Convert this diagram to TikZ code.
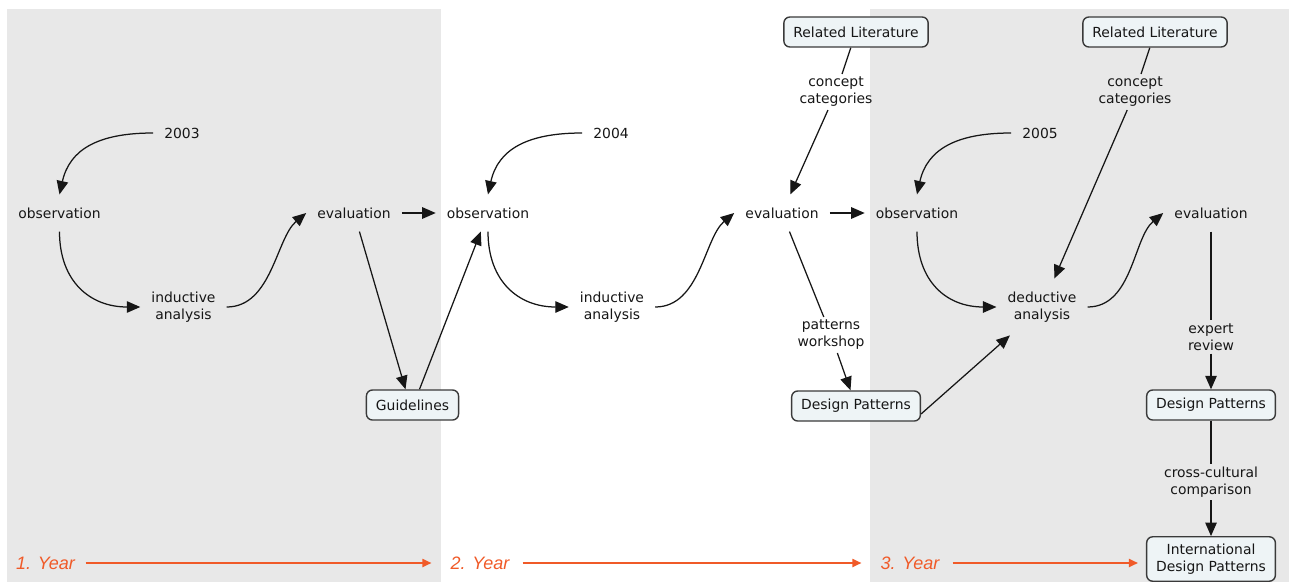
\documentclass[tikz,border=0pt]{standalone}
\usepackage{fontspec}
\setmainfont{DejaVu Sans}
\newfontfamily\yearfont{Liberation Sans}
\usetikzlibrary{arrows.meta}
\definecolor{panelgray}{HTML}{E8E8E8}
\definecolor{boxfill}{HTML}{EEF4F6}
\definecolor{boxline}{HTML}{3A3A3A}
\definecolor{yearorange}{HTML}{F05A28}
\definecolor{inkc}{HTML}{161616}
\begin{document}
\begin{tikzpicture}[x=1pt,y=-1pt,
  txt/.style={font=\fontsize{13.9}{17}\selectfont, text=inkc, align=center},
  lbl/.style={txt, inner xsep=11pt, inner ysep=13pt},
  mid/.style={txt, inner sep=3pt},
  box/.style={txt, draw=boxline, line width=1.4pt, fill=boxfill, rounded corners=6pt,
              inner xsep=9.5pt, inner ysep=7pt, minimum height=30pt},
  ln/.style={draw=inkc, line width=1.25pt},
  arr/.style={ln, -{Triangle[length=13.5pt,width=11.5pt]}},
  yr/.style={font=\yearfont\itshape\fontsize{18}{20}\selectfont, text=yearorange, inner sep=0pt},
  yarr/.style={draw=yearorange, line width=1.8pt, -{Triangle[length=9pt,width=8pt]}}
]
\useasboundingbox (0,0) rectangle (1289,583);
\fill[panelgray] (7,9) rectangle (441,582);
\fill[panelgray] (870,9) rectangle (1289,582);

% ---- year 1
\node[lbl] (y03) at (182,133) {2003};
\node[lbl] (obs1) at (59.5,213) {observation};
\node[lbl] (ind1) at (183.5,307) {inductive\\analysis};
\node[lbl] (eval1) at (354,213) {evaluation};
\node[box] (guide) at (412.5,405) {Guidelines};

% ---- year 2
\node[lbl] (y04) at (611,133) {2004};
\node[lbl] (obs2) at (488,213) {observation};
\node[lbl] (ind2) at (612,307) {inductive\\analysis};
\node[lbl] (eval2) at (782,213) {evaluation};
\node[box] (rl1) at (856,32) {Related Literature};
\node[mid] (cc1) at (836,92) {concept\\categories};
\node[mid] (pw) at (831,335) {patterns\\workshop};
\node[box] (dp1) at (856,406) {Design Patterns};

% ---- year 3
\node[lbl] (y05) at (1040,133) {2005};
\node[lbl] (obs3) at (917,213) {observation};
\node[lbl] (ded) at (1042,307) {deductive\\analysis};
\node[lbl] (eval3) at (1211,213) {evaluation};
\node[box] (rl2) at (1155,32) {Related Literature};
\node[mid] (cc2) at (1135,92) {concept\\categories};
\node[mid] (er) at (1211,337) {expert\\review};
\node[box] (dp2) at (1211,405) {Design Patterns};
\node[mid] (ccc) at (1211,482) {cross-cultural\\comparison};
\node[box] (idp) at (1211,559) {International\\Design Patterns};

% ---- year labels
\node[yr] (yr1) at (45.5,563) {1. Year};
\node[yr] (yr2) at (480,563) {2. Year};
\node[yr] (yr3) at (910,563) {3. Year};

% ---- connectors year 1
\draw[arr] (y03.west) .. controls +(-55,0) and +(10,-45) .. (obs1.north);
\draw[arr] (obs1.south) .. controls +(0,50) and +(-50,0) .. (ind1.west);
\draw[arr] (ind1.east) .. controls +(45,0) and +(-30,25) .. (eval1.west);
\draw[arr] (eval1.east) -- (obs2.west);
\draw[arr] (eval1) -- ([xshift=-7pt]guide.north);
\draw[arr] ([xshift=7pt]guide.north) -- (obs2);

% ---- connectors year 2
\draw[arr] (y04.west) .. controls +(-55,0) and +(10,-45) .. (obs2.north);
\draw[arr] (obs2.south) .. controls +(0,50) and +(-50,0) .. (ind2.west);
\draw[arr] (ind2.east) .. controls +(45,0) and +(-30,25) .. (eval2.west);
\draw[ln] (rl1) -- (cc1);
\draw[arr] (cc1) -- (eval2);
\draw[arr] (eval2.east) -- (obs3.west);
\draw[ln] (eval2) -- (pw);
\draw[arr] (pw) -- (dp1);
\draw[arr] ([yshift=-8pt]dp1.east) -- (ded);

% ---- connectors year 3
\draw[arr] (y05.west) .. controls +(-55,0) and +(10,-45) .. (obs3.north);
\draw[arr] (obs3.south) .. controls +(0,50) and +(-50,0) .. (ded.west);
\draw[ln] (rl2) -- (cc2);
\draw[arr] (cc2) -- (ded);
\draw[arr] (ded.east) .. controls +(45,0) and +(-30,25) .. (eval3.west);
\draw[ln] (eval3) -- (er);
\draw[arr] (er) -- (dp2);
\draw[ln] (dp2) -- (ccc);
\draw[arr] (ccc) -- (idp);

% ---- timeline
\draw[yarr, shorten <=10.5pt, shorten >=19pt] (yr1) -- (yr2);
\draw[yarr, shorten <=13pt, shorten >=19pt] (yr2) -- (yr3);
\draw[yarr, shorten <=13pt, shorten >=8pt] (yr3) -- (idp.west |- yr3);
\end{tikzpicture}
\end{document}
